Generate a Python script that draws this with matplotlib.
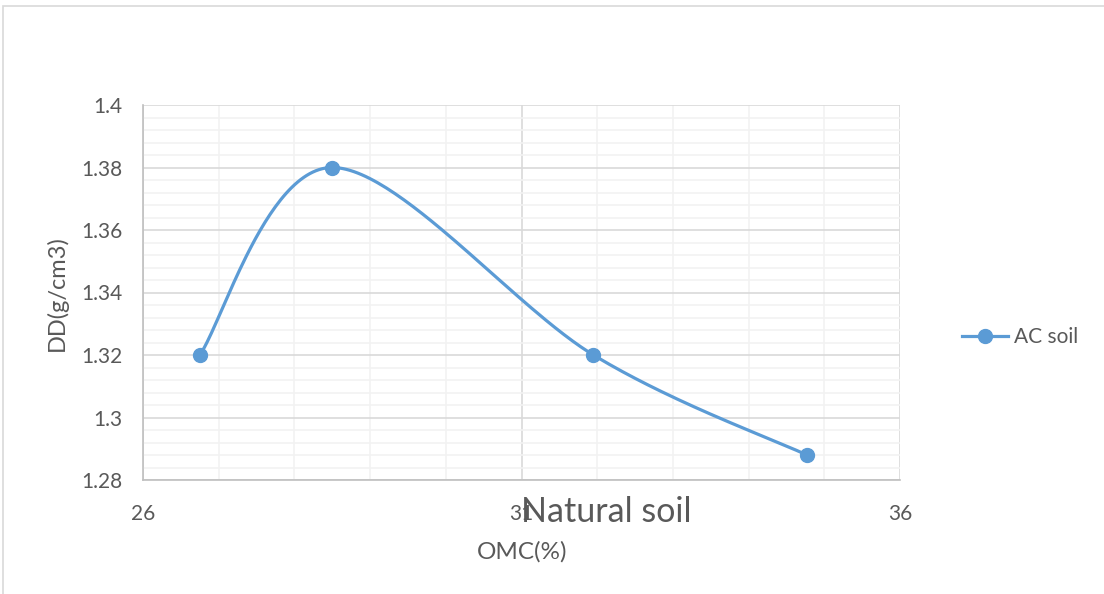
import matplotlib
matplotlib.use("Agg")
import matplotlib.pyplot as plt
import numpy as np
from matplotlib.patches import Rectangle

plt.rcParams["font.family"] = ["Lato", "DejaVu Sans"]

omc = [26.75, 28.5, 31.95, 34.77]
dd = [1.32, 1.38, 1.32, 1.288]
series_name = "AC soil"
x_label = "OMC(%)"
y_label = "DD(g/cm3)"
title = "Natural soil"
x_ticks = [26, 31, 36]
y_ticks = [1.28, 1.3, 1.32, 1.34, 1.36, 1.38, 1.4]
y_tick_labels = ["1.28", "1.3", "1.32", "1.34", "1.36", "1.38", "1.4"]

blue = "#5B9BD5"
text_grey = "#595959"

fig = plt.figure(figsize=(11.04, 5.94), dpi=100)
ax = fig.add_axes([143 / 1104, 1 - 480 / 594, 757 / 1104, 375 / 594])

# chart frame
fig.patches.append(Rectangle((3 / 1104, -0.1), 1.2, 1 - 6 / 594 + 0.1,
                             transform=fig.transFigure, fill=False,
                             edgecolor="#D9D9D9", linewidth=1.2))

ax.set_xlim(26, 36)
ax.set_ylim(1.28, 1.4)
ax.set_xticks(x_ticks)
ax.set_xticks(np.arange(26, 37, 1), minor=True)
ax.set_yticks(y_ticks)
ax.set_yticklabels(y_tick_labels)
ax.set_yticks(np.linspace(1.28, 1.4, 31), minor=True)
ax.grid(which="minor", color="#F2F2F2", linewidth=1.2)
ax.grid(which="major", color="#D9D9D9", linewidth=1.2)
ax.set_axisbelow(True)
ax.tick_params(which="both", length=0)
ax.tick_params(axis="x", pad=17, labelsize=15, labelcolor=text_grey)
ax.tick_params(axis="y", pad=15, labelsize=15, labelcolor=text_grey)
for side in ["top", "right"]:
    ax.spines[side].set_visible(False)
for side in ["left", "bottom"]:
    ax.spines[side].set_color("#BFBFBF")
    ax.spines[side].set_linewidth(1.2)


# smoothed line through the points, Catmull-Rom style in screen-scaled space
def smooth(xs, ys, sx, sy, n=60):
    p = np.column_stack([np.array(xs) * sx, np.array(ys) * sy])
    ext = np.vstack([p[0], p, p[-1]])
    out = []
    for i in range(len(p) - 1):
        p0, p1, p2, p3 = ext[i], ext[i + 1], ext[i + 2], ext[i + 3]
        c1 = p1 + (p2 - p0) / 6
        c2 = p2 - (p3 - p1) / 6
        t = np.linspace(0, 1, n)[:, None]
        seg = ((1 - t) ** 3) * p1 + 3 * ((1 - t) ** 2) * t * c1 \
            + 3 * (1 - t) * t ** 2 * c2 + t ** 3 * p2
        out.append(seg)
    out = np.vstack(out)
    return out[:, 0] / sx, out[:, 1] / sy


sx_, sy_ = smooth(omc, dd, 75.7, 3125)
ax.plot(sx_, sy_, color=blue, linewidth=2.3, solid_capstyle="round", zorder=3)
ax.plot(omc, dd, linestyle="none", marker="o", markersize=10,
        color=blue, zorder=4)
handle, = ax.plot([], [], color=blue, linewidth=2.3, marker="o",
                  markersize=10, label=series_name)

fig.legend(handles=[handle], loc="center left",
           bbox_to_anchor=(943 / 1104, 1 - 337 / 594), frameon=False,
           fontsize=15, labelcolor=text_grey, handlelength=2.2,
           handletextpad=0.3)

fig.text(522 / 1104, 1 - 552 / 594, x_label, fontsize=17.5,
         color=text_grey, ha="center", va="center")
fig.text(57 / 1104, 1 - 293 / 594, y_label, fontsize=17, color=text_grey,
         ha="center", va="center", rotation=90)

fig.text(606 / 1104, 1 - 512 / 594, title, fontsize=24.5, color=text_grey,
         ha="center", va="center")

fig.savefig("out.png", dpi=100, facecolor="white")
